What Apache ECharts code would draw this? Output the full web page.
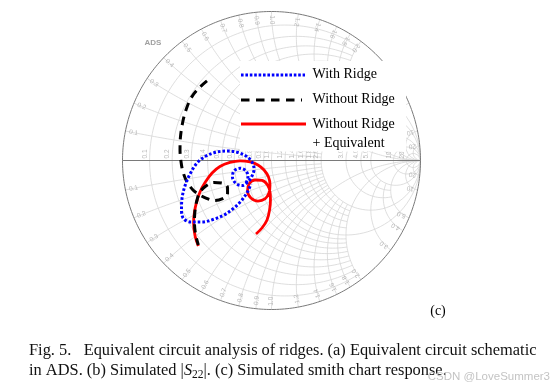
<!DOCTYPE html>
<html><head><meta charset="utf-8">
<script src="https://cdn.jsdelivr.net/npm/echarts@6/dist/echarts.min.js"></script>
<style>html,body{margin:0;padding:0;background:#fff}#c{width:551px;height:388px}</style>
</head><body><div id="c"></div>
<script>
// Smith chart grid values (normalized resistance / reactance) and their tick labels
const gridValues = [0.1,0.2,0.3,0.4,0.5,0.6,0.7,0.8,0.9,1.0,1.2,1.4,1.6,1.8,2.0,3,4,5,10,20];
const gridLabels = ['0.1','0.2','0.3','0.4','0.5','0.6','0.7','0.8','0.9','1.0','1.2','1.4','1.6','1.8','2.0','3.0','4.0','5.0','10','20'];

const withRidgeRe = [-0.171,-0.158,-0.171,-0.211,-0.252,-0.262,-0.238,-0.198,-0.158,-0.131,-0.117,-0.131,-0.171,-0.225,-0.292,-0.366,-0.440,-0.500,-0.547,-0.581,-0.601,-0.604,-0.591,-0.540,-0.466,-0.393,-0.319,-0.252,-0.198,-0.158,-0.138];
const withRidgeIm = [-0.151,-0.111,-0.070,-0.052,-0.070,-0.111,-0.154,-0.168,-0.144,-0.104,-0.057,-0.010,0.030,0.054,0.064,0.057,0.030,-0.017,-0.091,-0.171,-0.258,-0.332,-0.389,-0.413,-0.413,-0.396,-0.366,-0.319,-0.265,-0.205,-0.158];

const withoutRidgeRe = [-0.433,-0.493,-0.540,-0.574,-0.597,-0.611,-0.614,-0.607,-0.594,-0.567,-0.527,-0.487,-0.440,-0.386,-0.332,-0.295,-0.295,-0.332,-0.386,-0.440,-0.480,-0.500,-0.513,-0.517,-0.510,-0.491];
const withoutRidgeIm = [0.534,0.480,0.419,0.339,0.252,0.158,0.070,-0.010,-0.077,-0.144,-0.198,-0.228,-0.252,-0.268,-0.258,-0.225,-0.181,-0.151,-0.148,-0.171,-0.211,-0.265,-0.332,-0.413,-0.493,-0.567];

const equivalentRe = [-0.491,-0.513,-0.523,-0.517,-0.503,-0.480,-0.446,-0.399,-0.346,-0.279,-0.211,-0.144,-0.091,-0.050,-0.020,-0.010,-0.017,-0.044,-0.091,-0.138,-0.161,-0.151,-0.111,-0.064,-0.027,-0.010,-0.007,-0.013,-0.030,-0.064,-0.104];
const equivalentIm = [-0.574,-0.507,-0.419,-0.346,-0.279,-0.211,-0.148,-0.084,-0.040,-0.013,-0.002,-0.009,-0.030,-0.064,-0.111,-0.164,-0.218,-0.258,-0.272,-0.252,-0.205,-0.158,-0.131,-0.134,-0.164,-0.211,-0.265,-0.332,-0.399,-0.453,-0.493];

const legendNames = ['With Ridge','Without Ridge','Without Ridge\n+ Equivalent'];

function pairs(a,b){ return a.map((v,i)=>[v,b[i]]); }
function gamma(r,x){ const d=(r+1)*(r+1)+x*x; return [(r*r+x*x-1)/d, 2*x/d]; }
function clipLimit(v){ if (v===1 || v===2 || v>=5) return Infinity; if (v===3 || v===4) return 5; return 2; }

const GRID_COLOR = '#d6d6d6';
const series = [];
function gridLine(data, color, width){
  series.push({type:'line', data, showSymbol:false, symbol:'none', silent:true, animation:false, z:1,
    lineStyle:{color:color||GRID_COLOR, width:width||0.8}});
}
const N = 160;
gridValues.forEach(v=>{
  const L = clipLimit(v);
  const T = L===Infinity ? Math.PI/2-0.0005 : Math.atan(L);
  // resistance circle r = v, |x| <= L
  const rc = [];
  for (let i=0;i<=N;i++){ const th=-T+2*T*i/N; rc.push(gamma(v, Math.tan(th))); }
  gridLine(rc);
  // reactance arcs x = +/- v, r <= L
  [1,-1].forEach(s=>{
    const xa = [];
    for (let i=0;i<=N;i++){ const th=T*i/N; xa.push(gamma(Math.tan(th), s*v)); }
    gridLine(xa);
  });
});
// outer rim and real axis
const rim = [];
for (let i=0;i<=360;i++){ const a=i*Math.PI/180; rim.push([Math.cos(a),Math.sin(a)]); }
gridLine(rim, '#7a7a7a', 1);
gridLine([[-1,0],[1,0]], '#7a7a7a', 1);

// tick labels
const labelData = [];
gridValues.forEach((v,i)=>{
  const t = gridLabels[i];
  const u = (v-1)/(v+1);
  labelData.push({value:[u,0], label:{formatter:t, rotate:90, align:'left', verticalAlign:'bottom', padding:[0,0,1,2]}});
  [1,-1].forEach(s=>{
    const g = gamma(0, s*v);
    const phi = Math.atan2(g[1], g[0]);
    let deg = phi*180/Math.PI + 180;
    if (deg>180) deg -= 360;
    labelData.push({value:[0.975*Math.cos(phi), 0.975*Math.sin(phi)], label:{formatter:t, rotate:deg, align:'left', verticalAlign:'middle'}});
  });
});
series.push({type:'scatter', data:labelData, symbolSize:1, silent:true, animation:false, z:1,
  itemStyle:{color:'transparent'},
  label:{show:true, position:'inside', color:'#a8a8a8', fontSize:6.5, fontFamily:'Liberation Sans'}});

series.push({name:legendNames[2], type:'line', data:pairs(equivalentRe,equivalentIm), showSymbol:false, symbol:'none', smooth:0.35, z:10, animation:false,
  lineStyle:{color:'#ff0000', width:2.8}});
series.push({name:legendNames[1], type:'line', data:pairs(withoutRidgeRe,withoutRidgeIm), showSymbol:false, symbol:'none', smooth:0.35, z:11, animation:false,
  lineStyle:{color:'#000000', width:3, type:[8.5,6], cap:'butt'}});
series.push({name:legendNames[0], type:'line', data:pairs(withRidgeRe,withRidgeIm), showSymbol:false, symbol:'none', smooth:0.35, z:12, animation:false,
  lineStyle:{color:'#0000ff', width:3, type:[2.6,2], cap:'butt'}});

const serif = 'Liberation Serif';
const chart = echarts.init(document.getElementById('c'), null, {renderer:'canvas'});
chart.setOption({
  animation:false,
  backgroundColor:'#ffffff',
  grid:{left:122.5, top:11.5, width:298, height:298, show:false},
  xAxis:{type:'value', min:-1, max:1, show:false},
  yAxis:{type:'value', min:-1, max:1, show:false},
  series,
  graphic:[
    {type:'rect', z:20, shape:{x:240, y:61, width:166, height:90.5}, style:{fill:'#ffffff'}},
    {type:'line', z:21, shape:{x1:241, y1:75, x2:305, y2:75}, style:{stroke:'#0000ff', lineWidth:3, lineDash:[2.6,1.8]}},
    {type:'line', z:21, shape:{x1:241, y1:100, x2:302, y2:100}, style:{stroke:'#000', lineWidth:3.2, lineDash:[8.5,6.5]}},
    {type:'line', z:21, shape:{x1:241, y1:124, x2:306, y2:124}, style:{stroke:'#ff0000', lineWidth:2.8}},
    {type:'text', z:21, x:312.5, y:74.5, style:{text:legendNames[0], font:'14px '+serif, fill:'#000', verticalAlign:'middle'}},
    {type:'text', z:21, x:312.5, y:99.5, style:{text:legendNames[1], font:'14px '+serif, fill:'#000', verticalAlign:'middle'}},
    {type:'text', z:21, x:312.5, y:124.5, style:{text:'Without Ridge', font:'14px '+serif, fill:'#000', verticalAlign:'middle'}},
    {type:'text', z:21, x:312.5, y:143.5, style:{text:'+ Equivalent', font:'14px '+serif, fill:'#000', verticalAlign:'middle'}},
    {type:'text', z:21, x:144.5, y:43, style:{text:'ADS', font:'bold 8px Liberation Sans', fill:'#a0a0a0', verticalAlign:'middle'}},
    {type:'text', z:21, x:438, y:311.5, style:{text:'(c)', font:'14px '+serif, fill:'#000', align:'center', verticalAlign:'middle'}},
    {type:'text', z:21, x:29, y:350.5, style:{text:'Fig. 5.   Equivalent circuit analysis of ridges. (a) Equivalent circuit schematic', font:'16.4px '+serif, fill:'#111', verticalAlign:'middle'}},
    {type:'text', z:21, x:29, y:371, style:{
      text:'in ADS. (b) Simulated |{i|S}{sub|22}|. (c) Simulated smith chart response.',
      font:'16.4px '+serif, fill:'#111', verticalAlign:'middle',
      rich:{i:{fontStyle:'italic', fontFamily:serif, fontSize:16.4, fill:'#111'}, sub:{fontFamily:serif, fontSize:11.5, fill:'#111', padding:[7,0,0,0]}}}},
    {type:'text', z:22, x:550, y:376.5, style:{text:'CSDN @LoveSummer3', font:'11.5px Liberation Sans', fill:'#c4c4c4', align:'right', verticalAlign:'middle'}}
  ]
});
</script>
</body></html>
